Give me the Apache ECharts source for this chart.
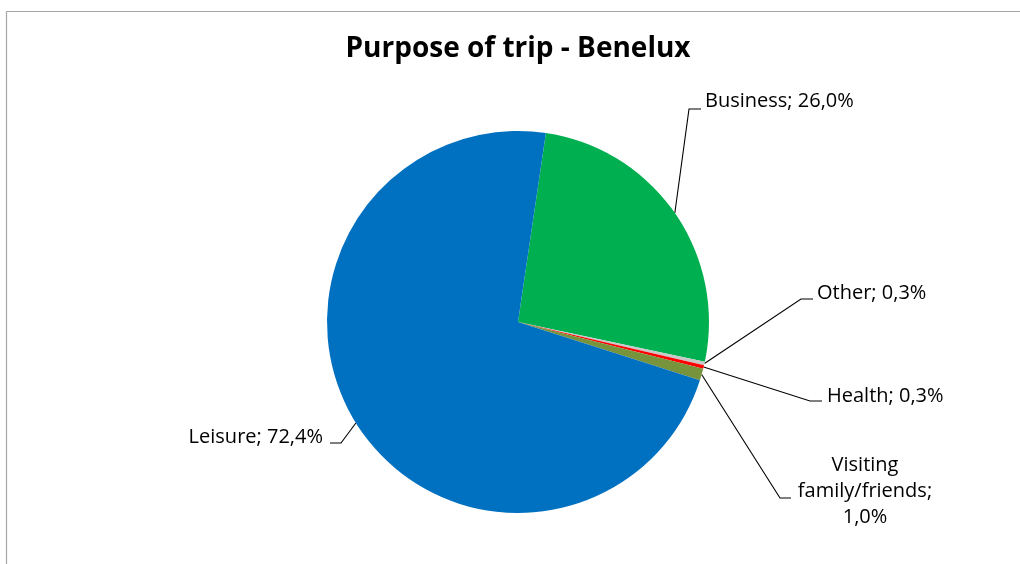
<!DOCTYPE html>
<html>
<head>
<meta charset="utf-8">
<script src="https://cdn.jsdelivr.net/npm/echarts@6/dist/echarts.min.js"></script>
<style>
html,body{margin:0;padding:0;background:#fff;}
#chart{width:1020px;height:564px;}
</style>
</head>
<body>
<div id="chart"></div>
<script>
// Data
const categories = ['Business', 'Other', 'Health', 'Visiting family/friends', 'Leisure'];
const shares = [26.0, 0.3, 0.3, 1.0, 72.4];
const sliceColors = ['#00B050', '#C8C8C8', '#FF0000', '#77933C', '#0070C0'];
const titleText = 'Purpose of trip - Benelux';

// Label placement (layout only)
const labelPlacement = {
  'Business': { x: 705, y: 101, align: 'left', elbow: [689, 109], end: [701, 109] },
  'Other': { x: 817, y: 293, align: 'left', elbow: [801, 299], end: [813, 299] },
  'Health': { x: 827, y: 396, align: 'left', elbow: [810, 401], end: [822, 401] },
  'Visiting family/friends': { x: 865, y: 491, align: 'center', elbow: [780, 498], end: [791, 498], wrap: true },
  'Leisure': { x: 323, y: 437, align: 'right', elbow: [341, 443], end: [330, 443] }
};

const fmt = v => v.toFixed(1).replace('.', ',');

const chart = echarts.init(document.getElementById('chart'), null, { renderer: 'canvas' });
const FONT = '"Open Sans", "Noto Sans", sans-serif';

chart.setOption({
  animation: false,
  backgroundColor: '#ffffff',
  title: {
    text: titleText,
    left: 513,
    textAlign: 'center',
    top: 30,
    textStyle: { fontFamily: FONT, fontWeight: 'bold', fontSize: 28, color: '#000' }
  },
  graphic: [
    { type: 'line', shape: { x1: 6.5, y1: 11.5, x2: 1020, y2: 11.5 }, style: { stroke: '#A6A6A6', lineWidth: 1.2 } },
    { type: 'line', shape: { x1: 6.5, y1: 11.5, x2: 6.5, y2: 564 }, style: { stroke: '#A6A6A6', lineWidth: 1.2 } }
  ],
  series: [{
    type: 'pie',
    center: [518, 322],
    radius: 191,
    startAngle: 81.6,
    clockwise: true,
    avoidLabelOverlap: false,
    itemStyle: { borderWidth: 0 },
    emphasis: { disabled: true },
    label: {
      show: true,
      fontFamily: FONT,
      fontSize: 20,
      color: '#000',
      lineHeight: 26,
      align: 'center',
      formatter: p => {
        const pl = labelPlacement[p.name];
        if (pl && pl.wrap) {
          const i = p.name.indexOf(' ');
          return p.name.slice(0, i) + '\n' + p.name.slice(i + 1) + ';\n' + fmt(p.value) + '%';
        }
        return p.name + '; ' + fmt(p.value) + '%';
      }
    },
    labelLine: { show: true, length: 10, length2: 10, lineStyle: { color: '#000', width: 1.1 } },
    labelLayout: function (params) {
      const name = categories[params.dataIndex];
      const pl = labelPlacement[name];
      if (!pl) return {};
      const start = params.labelLinePoints ? params.labelLinePoints[0] : pl.elbow;
      return {
        x: pl.x,
        y: pl.y,
        align: pl.align,
        verticalAlign: 'middle',
        labelLinePoints: [start, pl.elbow, pl.end]
      };
    },
    data: categories.map((c, i) => ({ name: c, value: shares[i], itemStyle: { color: sliceColors[i] } }))
  }]
});
</script>
</body>
</html>
